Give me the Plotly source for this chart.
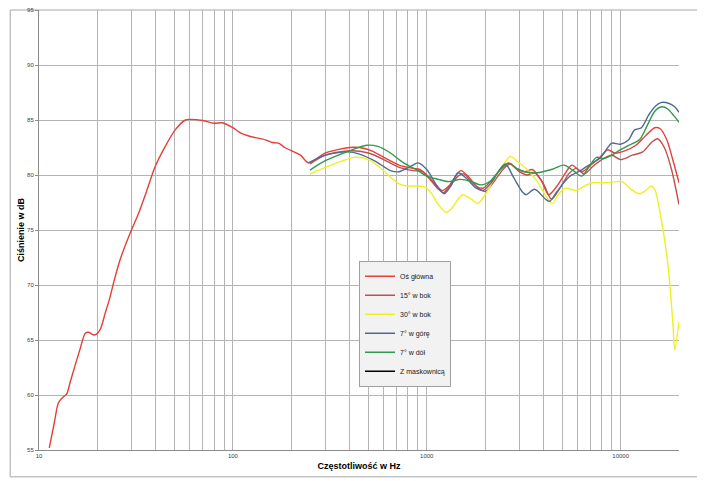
import plotly.graph_objects as go

# ---------------- data ----------------
names = ["Oś główna", "15° w bok", "30° w bok", "7° w górę", "7° w dół", "Z maskownicą"]
colors = ["#e3403a", "#c0504d", "#f0f020", "#4f6b94", "#2f9a4c", "#000000"]

f_main = [11.3, 12.0, 12.6, 13.3, 13.9, 14.5, 15.3, 16.3, 17.3, 18.0, 19.3, 20.6, 22, 23, 24.5, 26.2,
          29.5, 32.6, 36, 39.7, 44.8, 50.4, 56.9, 60, 70, 80, 88, 100, 110, 123, 147, 160, 172, 185,
          223, 246, 300, 400, 450, 520, 600, 720, 850, 920, 1000, 1100, 1200, 1300, 1420, 1500, 1650,
          1800, 1950, 2150, 2400, 2650, 2900, 3200, 3500, 3900, 4250, 4700, 5200, 5600, 6300, 7000,
          7800, 8600, 9300, 10500, 12000, 13500, 15000, 16000, 17300, 18500, 20000]
db_main = [55.2, 57.5, 59.3, 59.8, 60.1, 61.2, 62.6, 64.2, 65.6, 65.7, 65.45, 65.9, 67.5, 68.6, 70.5, 72.3,
           74.7, 76.5, 78.6, 80.75, 82.6, 84.1, 85.0, 85.06, 84.95, 84.7, 84.75, 84.3, 83.8, 83.5, 83.2, 82.95, 82.9, 82.5,
           81.8, 81.1, 82.0, 82.5, 82.5, 82.2, 81.6, 80.9, 80.6, 80.5, 80.0, 79.2, 78.6, 79.0, 80.0, 80.4, 79.8,
           79.0, 78.8, 79.5, 80.5, 81.1, 80.6, 80.3, 80.5, 79.5, 78.2, 79.0, 80.2, 80.9, 80.3, 80.9,
           81.6, 82.3, 82.0, 82.2, 82.7, 83.6, 84.3, 84.2, 83.2, 81.5, 79.3]

f_15 = [250, 300, 400, 500, 600, 720, 850, 950, 1050, 1150, 1220, 1320, 1450, 1550, 1700, 1850, 2000,
        2200, 2500, 2700, 3000, 3300, 3600, 4000, 4400, 4900, 5400, 5900, 6500, 7200, 8000, 9000,
        10000, 11500, 13000, 14500, 15500, 16800, 18300, 20000]
db_15 = [81.0, 81.8, 82.2, 82.0, 81.4, 80.7, 80.4, 80.3, 79.5, 78.7, 78.4, 79.0, 79.9, 80.1, 79.4, 78.8, 78.5,
         79.3, 80.6, 81.0, 80.3, 80.0, 80.2, 79.2, 77.8, 78.9, 80.1, 80.6, 80.1, 80.8, 81.4, 81.8,
         81.4, 81.8, 82.1, 83.0, 83.3, 82.5, 80.5, 77.3]

f_30 = [250, 300, 370, 420, 500, 590, 660, 720, 800, 900, 980, 1050, 1150, 1260, 1350, 1450, 1530, 1700,
        1830, 2000, 2200, 2450, 2700, 2950, 3250, 3650, 4150, 4450, 4800, 5200, 5900, 6500, 7200, 8300,
        9500, 10200, 11300, 12500, 13500, 14300, 15000, 16000, 17500, 18600, 19000, 20000]
db_30 = [80.1, 80.7, 81.3, 81.6, 81.4, 80.5, 79.7, 79.2, 79.0, 79.0, 78.9, 78.4, 77.3, 76.6, 77.0, 77.8, 78.2, 77.8,
         77.4, 78.2, 79.5, 80.8, 81.7, 81.2, 80.6, 79.6, 78.0, 77.4, 78.3, 78.8, 78.6, 79.0, 79.3, 79.3,
         79.4, 79.4, 78.7, 78.3, 78.6, 79.0, 78.7, 76.5, 72.0, 66.5, 64.1, 66.7]

f_up = [245, 300, 390, 450, 550, 650, 720, 830, 900, 1000, 1130, 1230, 1330, 1450, 1600, 1800, 1950,
        2150, 2400, 2550, 2800, 3100, 3250, 3600, 4100, 4300, 4700, 5400, 6200, 7000, 7900, 8500, 9000,
        10000, 11000, 11800, 12800, 14000, 15200, 16300, 17800, 19000, 20000]
db_up = [81.1, 81.8, 82.1, 81.9, 81.2, 80.4, 80.3, 80.8, 81.1, 80.5, 79.0, 78.3, 79.0, 80.2, 79.7, 78.8, 78.6,
         79.3, 80.6, 81.0, 79.8, 78.5, 78.2, 78.7, 77.8, 77.6, 78.5, 79.8, 80.4, 81.0, 81.6, 82.4, 82.9,
         82.8, 83.2, 84.1, 84.3, 85.5, 86.3, 86.6, 86.5, 86.2, 85.7]

f_down = [250, 300, 400, 490, 560, 650, 760, 900, 1000, 1150, 1300, 1500, 1700, 1900, 2150, 2400, 2650,
          2900, 3200, 3700, 4400, 5100, 5700, 6300, 6900, 7500, 8200, 9000, 10000, 11000, 12500, 13800,
          15000, 16300, 17500, 18800, 20000]
db_down = [80.45, 81.3, 82.2, 82.7, 82.6, 82.0, 81.1, 80.4, 79.9, 79.6, 79.4, 79.6, 79.4, 79.1, 79.5, 80.5, 81.06,
           80.6, 80.3, 80.2, 80.5, 80.9, 80.4, 79.9, 80.8, 81.6, 81.5, 81.8, 82.3, 82.7, 83.2, 84.6,
           85.8, 86.2, 86.0, 85.4, 84.8]

# series with grille: no visible points in the reference (legend entry only)
f_grill = [None]
db_grill = [None]

y_ticks = [55, 60, 65, 70, 75, 80, 85, 90, 95]
x_ticks = [10, 100, 1000, 10000]

series = [(f_main, db_main), (f_15, db_15), (f_30, db_30), (f_up, db_up), (f_down, db_down), (f_grill, db_grill)]

# ---------------- figure ----------------
fig = go.Figure()
for (fx, fy), nm, col in zip(series, names, colors):
    fig.add_trace(go.Scatter(x=fx, y=fy, name=nm, mode="lines", showlegend=True,
                             line=dict(color=col, width=1.4, shape="spline", smoothing=0.8)))

font_family = "Liberation Sans Narrow, Liberation Sans, Arial, sans-serif"
grid_col = "#b4b4b4"

# the page body adds an 8px offset, so the figure is 8px smaller than the window
fig.update_layout(
    width=697, height=473,
    margin=dict(l=31, r=26, t=2, b=31, autoexpand=False),
    paper_bgcolor="white", plot_bgcolor="white",
    font=dict(family=font_family, size=7, color="#404040"),
    showlegend=True,
    legend=dict(x=0.5, y=0.43, xanchor="left", yanchor="top",
                bgcolor="#f2f2f2", bordercolor="#a0a0a0", borderwidth=1,
                font=dict(size=7, color="#202020"), tracegroupgap=0,
                itemwidth=30),
    shapes=[dict(type="rect", xref="paper", yref="paper",
                 x0=-0.045, x1=1.036, y0=-0.061, y1=1.0,
                 line=dict(color="#a6a6a6", width=1), fillcolor="rgba(0,0,0,0)", layer="below")],
)

fig.update_xaxes(type="log", range=[1, 4.30103], automargin=False,
                 tickvals=x_ticks, ticktext=[str(v) for v in x_ticks],
                 showgrid=True, gridcolor=grid_col, gridwidth=1,
                 minor=dict(dtick="D1", showgrid=True, gridcolor=grid_col, gridwidth=1),
                 showline=True, linecolor="#8c8c8c", linewidth=1, mirror=False,
                 ticks="", tickfont=dict(size=6, color="#404040"), ticklabeloverflow="allow",
                 title=dict(text="<b>Częstotliwość w Hz</b>", font=dict(size=9, color="#000000"), standoff=4),
                 zeroline=False)
fig.update_yaxes(range=[55, 95], tickvals=y_ticks, automargin=False,
                 showgrid=True, gridcolor=grid_col, gridwidth=1,
                 showline=True, linecolor="#8c8c8c", linewidth=1,
                 ticks="outside", ticklen=3, tickcolor="#8c8c8c",
                 tickfont=dict(size=6, color="#404040"), ticklabeloverflow="allow",
                 title=dict(text="<b>Ciśnienie w dB</b>", font=dict(size=9, color="#000000"), standoff=0),
                 zeroline=False)

fig.write_html("out.html")
